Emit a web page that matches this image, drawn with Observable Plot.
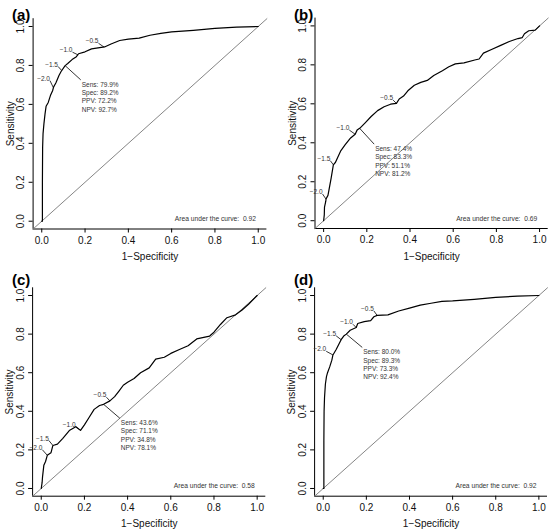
<!DOCTYPE html>
<html><head><meta charset="utf-8">
<script src="https://cdn.jsdelivr.net/npm/d3@7"></script>
<script src="https://cdn.jsdelivr.net/npm/@observablehq/plot@0.6"></script>
<style>
body{margin:0;background:#fff;}
#wrap{position:relative;width:550px;height:530px;font-family:"Liberation Sans",Arial,Helvetica,sans-serif;background:#fff;}
.panel{position:absolute;width:275px;height:265px;}
.tag{position:absolute;font-weight:bold;font-size:15px;line-height:15px;color:#000;}
</style></head><body><div id="wrap"></div>
<script>
// ---- data ----
const panelNames = ["(a)", "(b)", "(c)", "(d)"];
const xTicks = [0, 0.2, 0.4, 0.6, 0.8, 1.0];
const yTicks = [0, 0.2, 0.4, 0.6, 0.8, 1.0];
const thresholdLabels = ["\u22122.0", "\u22121.5", "\u22121.0", "\u22120.5"];
const aucValues = ["0.92", "0.69", "0.58", "0.92"];

// ROC curves (1-specificity, sensitivity)
const fprA = [0,0.003,0.003,0.004,0.006,0.01,0.015,0.02,0.03,0.04,0.05,0.055,0.065,0.08,0.09,0.108,0.12,0.14,0.16,0.17,0.2,0.23,0.26,0.29,0.32,0.36,0.4,0.45,0.5,0.55,0.6,0.7,0.8,0.9,1];
const tprA = [0,0,0.2,0.38,0.45,0.5,0.55,0.59,0.61,0.645,0.67,0.69,0.71,0.75,0.77,0.799,0.81,0.83,0.845,0.86,0.87,0.885,0.89,0.895,0.91,0.928,0.935,0.94,0.955,0.965,0.972,0.98,0.99,0.997,1];
const fprB = [0,0.003,0.004,0.01,0.011,0.02,0.025,0.035,0.045,0.055,0.065,0.08,0.1,0.125,0.146,0.155,0.167,0.19,0.22,0.25,0.28,0.31,0.337,0.35,0.37,0.39,0.42,0.45,0.48,0.51,0.55,0.58,0.61,0.65,0.7,0.72,0.74,0.78,0.82,0.86,0.9,0.92,0.93,0.95,0.98,1];
const tprB = [0,0.03,0.07,0.1,0.111,0.13,0.16,0.22,0.287,0.3,0.325,0.36,0.39,0.425,0.444,0.465,0.474,0.5,0.535,0.565,0.585,0.598,0.602,0.625,0.64,0.667,0.695,0.71,0.72,0.745,0.77,0.79,0.805,0.81,0.825,0.83,0.86,0.88,0.9,0.92,0.935,0.94,0.96,0.975,0.978,1];
const fprC = [0,0.004,0.006,0.012,0.02,0.028,0.045,0.054,0.075,0.1,0.13,0.16,0.182,0.2,0.22,0.245,0.27,0.289,0.318,0.34,0.36,0.38,0.4,0.43,0.46,0.5,0.53,0.57,0.6,0.64,0.68,0.72,0.78,0.8,0.83,0.86,0.9,0.93,0.96,1];
const tprC = [0,0.03,0.06,0.12,0.14,0.172,0.185,0.223,0.23,0.26,0.3,0.32,0.301,0.33,0.365,0.41,0.43,0.436,0.454,0.476,0.505,0.535,0.55,0.57,0.6,0.625,0.67,0.68,0.7,0.72,0.74,0.775,0.79,0.81,0.85,0.885,0.9,0.925,0.955,1];
const fprD = [0,0.003,0.003,0.004,0.006,0.01,0.015,0.02,0.03,0.04,0.045,0.06,0.083,0.095,0.107,0.125,0.153,0.16,0.19,0.22,0.235,0.25,0.3,0.35,0.4,0.45,0.5,0.55,0.6,0.7,0.8,0.9,1];
const tprD = [0,0,0.25,0.4,0.47,0.54,0.58,0.6,0.63,0.665,0.692,0.72,0.771,0.79,0.8,0.82,0.834,0.855,0.865,0.87,0.89,0.897,0.9,0.92,0.935,0.95,0.96,0.97,0.972,0.98,0.99,0.997,1];

// threshold points on the curve, and label ends
const thrXA = [0.054,0.092,0.168,0.288], thrYA = [0.685,0.774,0.854,0.894];
const labXA = [0.038,0.075,0.142,0.262], labYA = [0.722,0.795,0.868,0.914];
const thrXB = [0.011,0.045,0.146,0.337], thrYB = [0.111,0.287,0.444,0.602];
const labXB = [-0.005,0.031,0.119,0.322], labYB = [0.137,0.308,0.465,0.619];
const thrXC = [0.028,0.054,0.182,0.318], thrYC = [0.172,0.223,0.301,0.454];
const labXC = [0.005,0.035,0.159,0.302], labYC = [0.201,0.249,0.321,0.473];
const thrXD = [0.045,0.083,0.153,0.25], thrYD = [0.692,0.771,0.834,0.897];
const labXD = [0.014,0.06,0.138,0.235], labYD = [0.711,0.791,0.851,0.92];

// chosen cut-off point and statistics box
const cutA = [0.108,0.799], boxA = [0.18,0.726];
const cutB = [0.167,0.474], boxB = [0.234,0.393];
const cutC = [0.289,0.436], boxC = [0.364,0.364];
const cutD = [0.107,0.800], boxD = [0.181,0.731];
const statsA = ["Sens: 79.9%","Spec: 89.2%","PPV: 72.2%","NPV: 92.7%"];
const statsB = ["Sens: 47.4%","Spec: 83.3%","PPV: 51.1%","NPV: 81.2%"];
const statsC = ["Sens: 43.6%","Spec: 71.1%","PPV: 34.8%","NPV: 78.1%"];
const statsD = ["Sens: 80.0%","Spec: 89.3%","PPV: 73.3%","NPV: 92.4%"];

// ---- layout ----
const domain = [-0.04, 1.04];
const panels = [
  {fpr: fprA, tpr: tprA, thrX: thrXA, thrY: thrYA, labX: labXA, labY: labYA, cut: cutA, box: boxA, stats: statsA,
   left: 0, top: 0, m: [18.2, 8.6, 36.5, 32.6]},
  {fpr: fprB, tpr: tprB, thrX: thrXB, thrY: thrYB, labX: labXB, labY: labYB, cut: cutB, box: boxB, stats: statsB,
   left: 275, top: 0, m: [17.6, 2.3, 37.0, 39.5]},
  {fpr: fprC, tpr: tprC, thrX: thrXC, thrY: thrYC, labX: labXC, labY: labYC, cut: cutC, box: boxC, stats: statsC,
   left: 0, top: 265, m: [22.3, 9.7, 34.3, 32.1]},
  {fpr: fprD, tpr: tprD, thrX: thrXD, thrY: thrYD, labX: labXD, labY: labYD, cut: cutD, box: boxD, stats: statsD,
   left: 275, top: 265, m: [22.3, 3, 34.3, 39.1]}
];

const wrap = document.getElementById("wrap");
const fmt = d => d.toFixed(1);

panels.forEach((p, i) => {
  const curve = p.fpr.map((x, k) => ({x, y: p.tpr[k]}));
  const thr = thresholdLabels.map((t, k) => ({t, x1: p.thrX[k], y1: p.thrY[k], x2: p.labX[k], y2: p.labY[k]}));
  const chart = Plot.plot({
    width: 275, height: 265,
    marginTop: p.m[0], marginRight: p.m[1], marginBottom: p.m[2], marginLeft: p.m[3],
    x: {domain}, y: {domain},
    style: {fontFamily: '"Liberation Sans", Arial, Helvetica, sans-serif', fontSize: "10px", background: "#fff", overflow: "visible"},
    marks: [
      // L-shaped box
      Plot.ruleX([domain[0]], {stroke: "#000", strokeWidth: 1}),
      Plot.ruleY([domain[0]], {stroke: "#000", strokeWidth: 1}),
      // ticks
      Plot.axisX(xTicks, {tickSize: 4, tickFormat: () => "", label: null}),
      Plot.axisY(yTicks, {tickSize: 4, tickFormat: () => "", label: null}),
      Plot.text(xTicks, {x: d => d, frameAnchor: "bottom", dy: 11.5, text: fmt, lineAnchor: "middle", fill: "#111"}),
      Plot.text(yTicks, {y: d => d, frameAnchor: "left", dx: -12, text: fmt, rotate: -90, textAnchor: "middle", lineAnchor: "middle", fill: "#111"}),
      Plot.text(["1\u2212Specificity"], {frameAnchor: "bottom", dy: 28, lineAnchor: "middle", fill: "#111"}),
      Plot.text(["Sensitivity"], {frameAnchor: "left", dx: -22.6, rotate: -90, textAnchor: "middle", lineAnchor: "middle", fill: "#111"}),
      // reference diagonal (abline 0,1)
      Plot.line(domain.map(v => ({x: v, y: v})), {x: "x", y: "y", stroke: "#777", strokeWidth: 0.9}),
      // ROC curve
      Plot.line(curve, {x: "x", y: "y", stroke: "#000", strokeWidth: 1.2}),
      // threshold labels
      Plot.link(thr, {x1: "x1", y1: "y1", x2: "x2", y2: "y2", stroke: "#000", strokeWidth: 0.8}),
      Plot.text(thr, {x: "x2", y: "y2", text: "t", textAnchor: "end", lineAnchor: "middle", dy: -2, fontSize: 6.5, fill: "#333"}),
      // cut-off annotation
      Plot.link([{x1: p.cut[0], y1: p.cut[1], x2: p.box[0], y2: p.box[1]}], {x1: "x1", y1: "y1", x2: "x2", y2: "y2", stroke: "#000", strokeWidth: 0.8}),
      Plot.text([p.stats.join("\n")], {x: p.box[0], y: p.box[1], dx: 1, dy: 1, textAnchor: "start", lineAnchor: "top", lineHeight: 1.28, fontSize: 6.5, fill: "#333"}),
      // AUC
      Plot.text(["Area under the curve:  " + aucValues[i]], {frameAnchor: "bottom-right", dx: -11, dy: -10, textAnchor: "end", lineAnchor: "middle", fontSize: 6.7, fill: "#333"})
    ]
  });
  const div = document.createElement("div");
  div.className = "panel";
  div.style.left = p.left + "px";
  div.style.top = p.top + "px";
  div.appendChild(chart);
  wrap.appendChild(div);
  const tag = document.createElement("div");
  tag.className = "tag";
  tag.textContent = panelNames[i];
  tag.style.left = (p.left + (i % 2 ? 19 : 12)) + "px";
  tag.style.top = (p.top + 7) + "px";
  wrap.appendChild(tag);
});
</script></body></html>
